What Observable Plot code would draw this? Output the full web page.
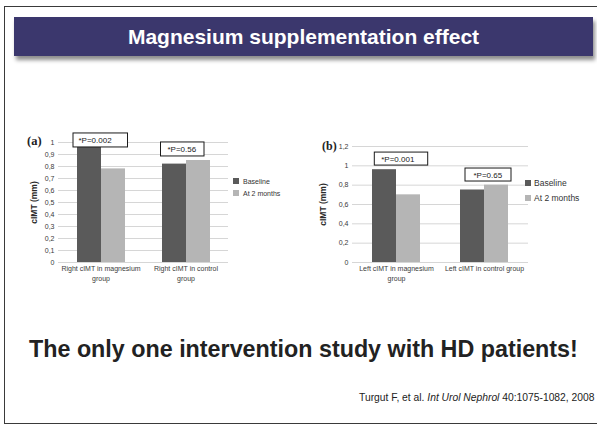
<!DOCTYPE html>
<html>
<head>
<meta charset="utf-8">
<script src="https://cdn.jsdelivr.net/npm/d3@7"></script>
<script src="https://cdn.jsdelivr.net/npm/@observablehq/plot@0.6"></script>
<style>
  html, body { margin: 0; padding: 0; background: #fff; }
  body { width: 597px; height: 428px; overflow: hidden; position: relative; font-family: "Liberation Sans", Arial, sans-serif; }
  .abs { position: absolute; }
  #frame { left: 4px; top: 6px; width: 620px; height: 418px; border: 1px solid #3a3a3a; box-sizing: border-box; }
  #banner { left: 14px; top: 17px; width: 579px; height: 39px; background: #3b376d; box-shadow: 2px 4px 4px rgba(0,0,0,0.45); color: #fff; font-weight: bold; font-size: 21px; text-align: center; line-height: 39px; }
  #headline { left: 29px; top: 336px; font-weight: bold; font-size: 23.3px; color: #222; white-space: nowrap; }
  #cite { left: 359px; top: 392px; font-size: 10.3px; color: #222; white-space: nowrap; }
  .panel { font-family: "Liberation Serif", "Times New Roman", serif; font-weight: bold; color: #222; }
  .leg { font-family: "Liberation Sans", Arial, sans-serif; color: #333; white-space: nowrap; display: flex; align-items: center; }
  .leg span.sw { display: inline-block; }
</style>
</head>
<body>
<script>
// ---------- data ----------
const series = ["Baseline", "At 2 months"];
const seriesColors = ["#5a5a5a", "#b5b5b5"];

const groupsA = ["Right cIMT in magnesium group", "Right cIMT in control group"];
const baselineA = [0.98, 0.82];
const twoMonthsA = [0.78, 0.85];
const yTicksA = [0, 0.1, 0.2, 0.3, 0.4, 0.5, 0.6, 0.7, 0.8, 0.9, 1];
const groupLabelsA = ["Right cIMT in magnesium\ngroup", "Right cIMT in control\ngroup"];
const pLabelsA = ["*P=0.002", "*P=0.56"];
const pAnchorA = [1.017, 0.942];

const groupsB = ["Left cIMT in magnesium group", "Left cIMT in control group"];
const baselineB = [0.96, 0.75];
const twoMonthsB = [0.70, 0.80];
const yTicksB = [0, 0.2, 0.4, 0.6, 0.8, 1, 1.2];
const groupLabelsB = ["Left cIMT in magnesium\ngroup", "Left cIMT in control group"];
const pLabelsB = ["*P=0.001", "*P=0.65"];
const pAnchorB = [1.07, 0.905];

const yLabel = "cIMT (mm)";

// ---------- helpers ----------
const fmt = d => String(d).replace(".", ",");

function addDiv(cls, css, html) {
  const d = document.createElement("div");
  d.className = "abs " + (cls || "");
  Object.assign(d.style, css || {});
  if (html !== undefined) d.innerHTML = html;
  document.body.appendChild(d);
  return d;
}

function makeChart(cfg) {
  const rows = [];
  cfg.groups.forEach((g, i) => {
    rows.push({group: g, series: series[0], value: cfg.baseline[i]});
    rows.push({group: g, series: series[1], value: cfg.twoMonths[i]});
  });
  const ann = cfg.groups.map((g, i) => ({group: g, y: cfg.pAnchor[i], label: cfg.pLabels[i]}));
  const labelOf = Object.fromEntries(cfg.groups.map((g, i) => [g, cfg.groupLabels[i]]));

  const boxMarks = [];
  ann.forEach((a, i) => {
    const [il, ir, tx] = cfg.boxLayout[i];
    boxMarks.push(Plot.rect([a], {fx: "group", y1: "y", y2: "y", fill: "white", stroke: "#1a1a1a", strokeWidth: 1,
      insetLeft: il, insetRight: ir, insetTop: -cfg.boxHalf, insetBottom: -cfg.boxHalf}));
    boxMarks.push(Plot.text([a], {fx: "group", y: "y", text: "label", frameAnchor: "left", dx: tx, textAnchor: "start",
      fontSize: 8, fill: "#222", lineAnchor: "middle"}));
  });

  return Plot.plot({
    width: cfg.width,
    height: 162,
    marginLeft: cfg.marginLeft,
    marginRight: 2,
    marginTop: cfg.marginTop,
    marginBottom: 30,
    style: {fontFamily: "'Liberation Sans', Arial, sans-serif", fontSize: "7px", color: "#3a3a3a", background: "transparent", overflow: "visible"},
    fx: {domain: cfg.groups, padding: 0, label: null},
    x: {domain: series, paddingInner: 0, paddingOuter: cfg.pad, axis: null},
    y: {domain: cfg.yDomain, axis: null},
    color: {domain: series, range: seriesColors},
    marks: [
      Plot.gridY(cfg.yTicks, {stroke: "#d6d6d6", strokeOpacity: 1, strokeWidth: 1}),
      Plot.axisY(cfg.yTicks, {tickSize: 0, tickPadding: 4, tickFormat: fmt, label: null, fontSize: 7, fill: "#3a3a3a"}),
      Plot.axisFx({anchor: "bottom", tickSize: 0, tickPadding: 2, label: null, lineHeight: 1.4, fontSize: 7, fill: "#3a3a3a",
        tickFormat: g => labelOf[g]}),
      Plot.barY(rows, {fx: "group", x: "series", y: "value", fill: "series"}),
      ...boxMarks,
      Plot.text([yLabel], {fx: () => cfg.groups[0], text: d => d, frameAnchor: "left", dx: cfg.yLabelDx, rotate: -90,
        fontSize: 8.5, fontWeight: "bold", fill: "#2a2a2a", textAnchor: "middle", lineAnchor: "middle"})
    ]
  });
}

function addLegend(x, ys, size, fontSize) {
  series.forEach((s, i) => {
    const d = addDiv("leg", {left: x + "px", top: (ys[i] - 6) + "px", height: "12px", fontSize: fontSize + "px"});
    d.innerHTML = `<span class="sw" style="width:${size}px;height:${size}px;background:${seriesColors[i]};margin-right:${fontSize > 8 ? 3 : 4}px"></span>${s}`;
  });
}

// ---------- slide ----------
addDiv("", {}, "").id = "frame";
document.getElementById("frame").className = "abs";
const banner = addDiv("", {}, "Magnesium supplementation effect");
banner.id = "banner";

// chart (a)
const chartA = makeChart({
  groups: groupsA, baseline: baselineA, twoMonths: twoMonthsA, yTicks: yTicksA, yDomain: [0, 1],
  groupLabels: groupLabelsA, pLabels: pLabelsA, pAnchor: pAnchorA,
  width: 210, marginLeft: 37, marginTop: 12, pad: 0.745, boxHalf: 7,
  boxLayout: [[15, 15.5, 20], [17.5, 24, 24]], yLabelDx: -24
});
const wrapA = addDiv("", {left: "20px", top: "130px"});
wrapA.appendChild(chartA);
addDiv("panel", {left: "27px", top: "134px", fontSize: "12.5px"}, "(a)");
addLegend(233, [181, 193], 6, 7);

// chart (b)
const chartB = makeChart({
  groups: groupsB, baseline: baselineB, twoMonths: twoMonthsB, yTicks: yTicksB, yDomain: [0, 1.2],
  groupLabels: groupLabelsB, pLabels: pLabelsB, pAnchor: pAnchorB,
  width: 220, marginLeft: 42, marginTop: 16, pad: 0.833, boxHalf: 6.5,
  boxLayout: [[22.3, 12.3, 28.7], [25, 17, 33]], yLabelDx: -29
});
const wrapB = addDiv("", {left: "310px", top: "130px"});
wrapB.appendChild(chartB);
addDiv("panel", {left: "322px", top: "139px", fontSize: "12px"}, "(b)");
addLegend(525, [183, 198], 6, 8.5);

// texts
const head = addDiv("", {}, "The only one intervention study with HD patients!");
head.id = "headline";
const cite = addDiv("", {}, "Turgut F, et al. <i>Int Urol Nephrol</i> 40:1075-1082, 2008");
cite.id = "cite";
</script>
</body>
</html>
